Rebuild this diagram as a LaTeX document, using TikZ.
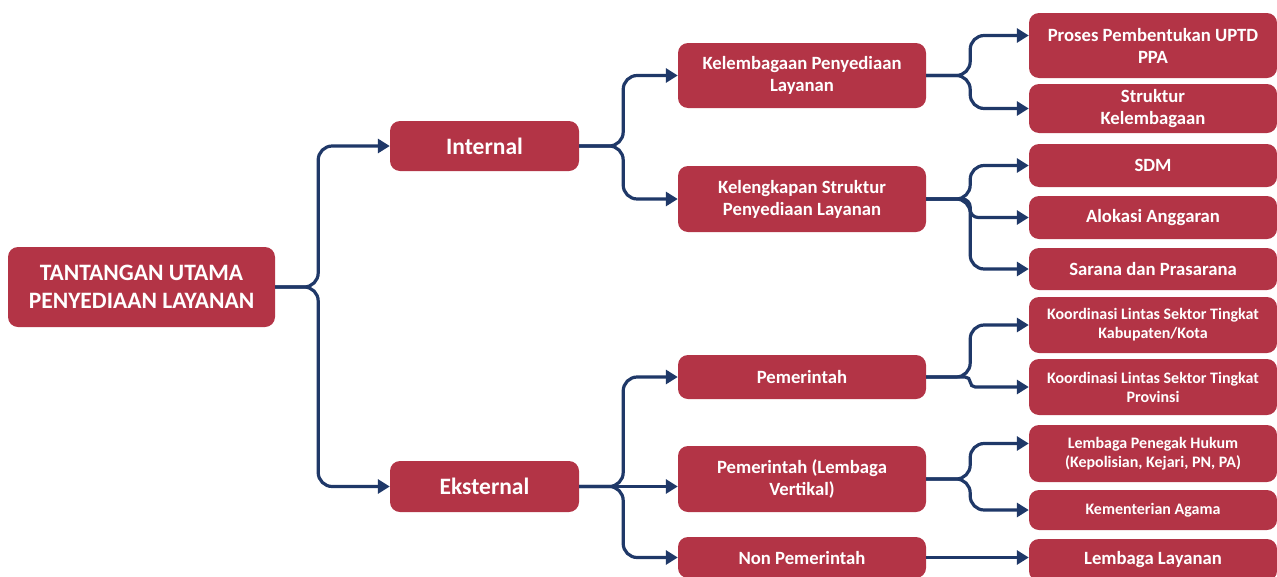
\documentclass[tikz,border=0pt]{standalone}
\usepackage{fontspec}
\setmainfont{Carlito}
\usepackage{xcolor}
\usetikzlibrary{arrows.meta}
\definecolor{boxred}{RGB}{179,52,70}
\definecolor{linkblue}{RGB}{31,56,104}

\begin{document}
\begin{tikzpicture}[x=1pt,y=-1pt,
  box/.style={fill=boxred,text=white,rounded corners=10pt,align=center,inner sep=0pt},
  big/.style={box,font=\bfseries\fontsize{23.5}{28}\selectfont},
  mid/.style={box,minimum width=248pt,font=\bfseries\fontsize{18.7}{22}\selectfont},
  small/.style={box,minimum width=248pt,font=\bfseries\fontsize{16}{19}\selectfont},
  link/.style={draw=linkblue,line width=3.2pt,rounded corners=14pt,-{Triangle[length=12pt,width=14pt]}}]
  \useasboundingbox (0,0) rectangle (1277,576);

  \node (root) [big,minimum width=267pt,minimum height=80pt] at (141.5,287) {TANTANGAN UTAMA\\PENYEDIAAN LAYANAN};
  \node (int) [big,minimum width=189pt,minimum height=50pt] at (484.5,146) {Internal};
  \node (eks) [big,minimum width=189pt,minimum height=51pt] at (484.5,486.5) {Eksternal};

  \node (lem) [mid,minimum height=65pt] at (802,75.5) {Kelembagaan Penyediaan\\Layanan};
  \node (kel) [mid,minimum height=66pt] at (802,199) {Kelengkapan Struktur\\Penyediaan Layanan};
  \node (pem) [mid,minimum height=44pt] at (802,377) {Pemerintah};
  \node (plv) [mid,minimum height=66pt] at (802,479) {Pemerintah (Lembaga\\Vertikal)};
  \node (npm) [mid,minimum height=41pt] at (802,557.5) {Non Pemerintah};

  \node (upt) [mid,minimum height=65pt] at (1153,45.5) {Proses Pembentukan UPTD\\PPA};
  \node (skl) [mid,minimum height=49pt] at (1153,108.5) {Struktur\\Kelembagaan};
  \node (sdm) [mid,minimum height=43pt] at (1153,165.5) {SDM};
  \node (ang) [mid,minimum height=43pt] at (1153,217.5) {Alokasi Anggaran};
  \node (sar) [mid,minimum height=42pt] at (1153,269) {Sarana dan Prasarana};
  \node (kab) [small,minimum height=56pt] at (1153,325) {Koordinasi Lintas Sektor Tingkat\\Kabupaten/Kota};
  \node (prv) [small,minimum height=56pt] at (1153,387) {Koordinasi Lintas Sektor Tingkat\\Provinsi};
  \node (hkm) [small,minimum height=57pt] at (1153,453.5) {Lembaga Penegak Hukum\\(Kepolisian, Kejari, PN, PA)};
  \node (kag) [small,minimum height=40pt] at (1153,510) {Kementerian Agama};
  \node (lly) [mid,minimum height=42pt] at (1153,560) {Lembaga Layanan};

  \draw[link] (root.east) -- ++(43,0) |- (int.west);
  \draw[link] (root.east) -- ++(43,0) |- (eks.west);
  \draw[link] (int.east) -- ++(44,0) |- (lem.west);
  \draw[link] (int.east) -- ++(44,0) |- (kel.west);
  \draw[link] (eks.east) -- ++(44,0) |- (pem.west);
  \draw[link] (eks.east) -- (eks.east -| plv.west);
  \draw[link] (eks.east) -- ++(44,0) |- (npm.west);
  \draw[link] (lem.east) -- ++(44,0) |- ([yshift=10pt]upt.west);
  \draw[link] (lem.east) -- ++(44,0) |- (skl.west);
  \draw[link] (kel.east) -- ++(44,0) |- (sdm.west);
  \draw[link,rounded corners=8pt] (kel.east) -- ++(44,0) |- (ang.west);
  \draw[link] (kel.east) -- ++(44,0) |- (sar.west);
  \draw[link] (pem.east) -- ++(44,0) |- (kab.west);
  \draw[link,rounded corners=5pt] (pem.east) -- ++(44,0) |- (prv.west);
  \draw[link] (plv.east) -- ++(44,0) |- ([yshift=10pt]hkm.west);
  \draw[link] (plv.east) -- ++(44,0) |- (kag.west);
  \draw[link] (npm.east) -- (npm.east -| lly.west);
\end{tikzpicture}
\end{document}
